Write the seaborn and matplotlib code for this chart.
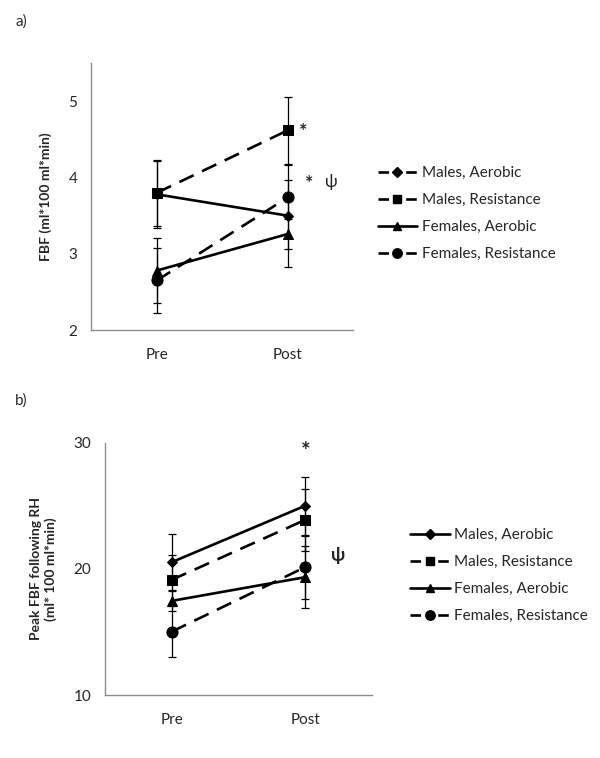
import numpy as np
import matplotlib
matplotlib.use('Agg')
import matplotlib.pyplot as plt
import seaborn as sns
import pandas as pd
from matplotlib.lines import Line2D

sns.set_style('white')
plt.rcParams['font.family'] = ['Lato', 'DejaVu Sans']

# Data
time_points = ['Pre', 'Post']
groups = ['Males, Aerobic', 'Males, Resistance', 'Females, Aerobic', 'Females, Resistance']

# a) FBF
fbf_mean = {
    'Males, Aerobic': [3.78, 3.50],
    'Males, Resistance': [3.80, 4.62],
    'Females, Aerobic': [2.78, 3.26],
    'Females, Resistance': [2.65, 3.74],
}
fbf_err = {
    'Males, Aerobic': [0.44, 0.67],
    'Males, Resistance': [0.43, 0.44],
    'Females, Aerobic': [0.43, 0.20],
    'Females, Resistance': [0.43, 0.23],
}

# b) Peak FBF following RH
peak_mean = {
    'Males, Aerobic': [20.54, 25.02],
    'Males, Resistance': [19.14, 23.90],
    'Females, Aerobic': [17.47, 19.35],
    'Females, Resistance': [15.03, 20.15],
}
peak_err = {
    'Males, Aerobic': [2.23, 2.30],
    'Males, Resistance': [2.00, 2.47],
    'Females, Aerobic': [0.80, 2.46],
    'Females, Resistance': [2.00, 2.50],
}

markers = {'Males, Aerobic': 'D', 'Males, Resistance': 's',
           'Females, Aerobic': '^', 'Females, Resistance': 'o'}
msizes = {'Males, Aerobic': 5.5, 'Males, Resistance': 7.5,
          'Females, Aerobic': 7, 'Females, Resistance': 8}
plot_dash = {'Males, Aerobic': False, 'Males, Resistance': True,
             'Females, Aerobic': False, 'Females, Resistance': True}
legend_dash_a = {'Males, Aerobic': True, 'Males, Resistance': True,
                 'Females, Aerobic': False, 'Females, Resistance': True}
legend_dash_b = plot_dash

dash_pattern = (6, 3.5)
gray = '#8c8c8c'


def draw_panel(ax, means, errs, ylim, yticks, ylabel, legend_dash, legend_anchor):
    x = np.arange(len(time_points))
    for g in groups:
        df = pd.DataFrame({'x': x, 'y': means[g]})
        ax.errorbar(x, means[g], yerr=errs[g], fmt='none', ecolor='black',
                    elinewidth=0.9, capsize=3.2, capthick=0.9, zorder=2)
        sns.lineplot(data=df, x='x', y='y', ax=ax, color='black',
                     linewidth=1.9, marker=markers[g], markersize=msizes[g],
                     markeredgecolor='black', markerfacecolor='black',
                     zorder=3)
        l = ax.lines[-1]
        if plot_dash[g]:
            l.set_dashes(dash_pattern)
    ax.set_xlim(-0.5, 1.5)
    ax.set_ylim(*ylim)
    ax.set_yticks(yticks)
    ax.set_xticks(x)
    ax.set_xticklabels(time_points, fontsize=11)
    ax.set_xticks([0.5, 1.5], minor=True)
    ax.tick_params(axis='x', which='major', length=0, pad=13)
    ax.tick_params(axis='x', which='minor', length=4, color=gray, direction='out')
    ax.tick_params(axis='y', length=4, color=gray, direction='out', labelsize=11, pad=6)
    ax.set_xlabel('')
    ax.set_ylabel(ylabel, fontsize=10, fontweight='bold', labelpad=12)
    for s in ['top', 'right']:
        ax.spines[s].set_visible(False)
    for s in ['left', 'bottom']:
        ax.spines[s].set_color(gray)
        ax.spines[s].set_linewidth(1.0)

    handles = []
    for g in groups:
        h = Line2D([0], [0], color='black', linewidth=1.9,
                   linestyle='--' if legend_dash[g] else '-',
                   marker=markers[g], markersize=msizes[g] * 0.85,
                   markerfacecolor='black', markeredgecolor='black')
        if legend_dash[g]:
            h.set_dashes((4, 6.5))
        handles.append(h)
    ax.legend(handles, groups, loc='center left', bbox_to_anchor=legend_anchor,
              frameon=False, fontsize=11, handlelength=2.6, handletextpad=0.3,
              labelspacing=0.85)


fig = plt.figure(figsize=(6, 7.58), dpi=100)

ax_a = fig.add_axes([0.152, 0.5646, 0.437, 0.352])
draw_panel(ax_a, fbf_mean, fbf_err, (2, 5.5), [2, 3, 4, 5],
           'FBF (ml*100 ml*min)', legend_dash_a, (1.04, 0.436))
ax_a.text(1.12, 4.60, '*', fontsize=14, ha='center', va='center', fontweight='bold')
ax_a.text(1.16, 3.92, '*', fontsize=14, ha='center', va='center', fontweight='bold')
ax_a.text(1.33, 3.94, '\u03c8', fontsize=12, ha='center', va='center')

ax_b = fig.add_axes([0.175, 0.0831, 0.445, 0.3325])
draw_panel(ax_b, peak_mean, peak_err, (10, 30), [10, 20, 30],
           'Peak FBF following RH\n(ml* 100 ml*min)', legend_dash_b, (1.09, 0.474))
ax_b.text(1.0, 29.3, '*', fontsize=16, ha='center', va='center', fontweight='bold')
ax_b.text(1.25, 21.1, '\u03c8', fontsize=13, ha='center', va='center', fontweight='bold')

fig.text(0.025, 0.971, 'a)', fontsize=11, va='center')
fig.text(0.025, 0.472, 'b)', fontsize=11, va='center')

plt.savefig('out.png', dpi=100)
plt.close()
